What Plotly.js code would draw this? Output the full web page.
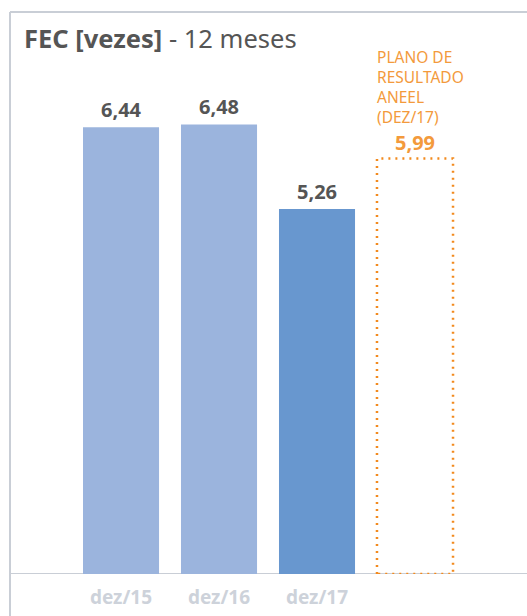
<!DOCTYPE html>
<html><head><meta charset="utf-8">
<script src="https://cdn.plot.ly/plotly-3.0.1.min.js"></script>
<style>html,body{margin:0;padding:0;background:#fff}#c{width:527px;height:616px}</style>
</head><body><div id="c"></div>
<script>
const categories = ['dez/15','dez/16','dez/17'];
const values = [6.44, 6.48, 5.26];
const barColors = ['#9BB4DD','#9BB4DD','#6897CF'];
const targetValue = 5.99;
const targetLabelLines = ['PLANO DE','RESULTADO','ANEEL','(DEZ/17)'];
const titleBold = 'FEC [vezes]';
const titleRest = ' - 12 meses';

const FONT = 'Noto Sans, sans-serif';
const W = 0.776;
const idx = categories.map((_, i) => i);
const tIdx = categories.length;
const fmt = v => v.toFixed(2).replace('.', ',');

const traces = [
  {type:'bar', x: idx, y: values, width: W, marker:{color: barColors}, hoverinfo:'skip'},
  {type:'scatter', mode:'lines', hoverinfo:'skip',
   x:[tIdx - W/2, tIdx - W/2, tIdx + W/2, tIdx + W/2, tIdx - W/2],
   y:[0, targetValue, targetValue, 0, 0],
   line:{color:'#F28A1E', width:2.5, dash:'2px,5px'}}
];

const ann = values.map((v, i) => ({
  x: i, y: v, xref:'x', yref:'y', text: '<b>' + fmt(v) + '</b>', showarrow:false,
  yanchor:'bottom', yshift:2, font:{family:FONT, size:20, color:'#555555'}
}));
ann.push({x: tIdx, y: targetValue, xref:'x', yref:'y', text:'<b>' + fmt(targetValue) + '</b>',
  showarrow:false, yanchor:'bottom', yshift:0, font:{family:FONT, size:20, color:'#F39A3C'}});
ann.push({x: tIdx - W/2, y: targetValue, xref:'x', yref:'y', text: targetLabelLines.join('<br>'),
  showarrow:false, xanchor:'left', yanchor:'bottom', align:'left', yshift:28, xshift:-2,
  font:{family:FONT, size:15.5, color:'#F39A3C'}});

const layout = {
  width:527, height:616,
  margin:{l:10, r:0, t:12, b:42},
  paper_bgcolor:'#fff', plot_bgcolor:'#fff',
  showlegend:false,
  title:{text:'<b>' + titleBold + '</b>' + titleRest, x:24/527, xanchor:'left', xref:'container',
    y:1 - 39/616, yanchor:'middle', yref:'container',
    font:{family:FONT, size:25.5, color:'#555555'}},
  xaxis:{range:[-1.133, 4.143], tickvals: idx, ticktext: categories.map(c => '<b>' + c + '</b>'),
    showgrid:false, zeroline:false, showline:false, ticks:'outside', ticklen:6, tickcolor:'rgba(0,0,0,0)',
    tickfont:{family:FONT, size:19, color:'#CDD2DA'}, fixedrange:true},
  yaxis:{range:[0, 8.1], visible:false, fixedrange:true},
  annotations: ann,
  shapes:[
    {type:'line', xref:'paper', yref:'paper', x0:0, x1:1, y0:1, y1:1, line:{color:'#C9CED6', width:2}},
    {type:'line', xref:'paper', yref:'paper', x0:0, x1:0, y0:-42/562, y1:1, line:{color:'#C9CED6', width:2}},
    {type:'line', xref:'paper', yref:'y', x0:0, x1:1, y0:0, y1:0, line:{color:'#C9CED6', width:2}, layer:'below'}
  ],
  bargap:0.2
};
Plotly.newPlot('c', traces, layout, {displayModeBar:false, staticPlot:true});
</script></body></html>
